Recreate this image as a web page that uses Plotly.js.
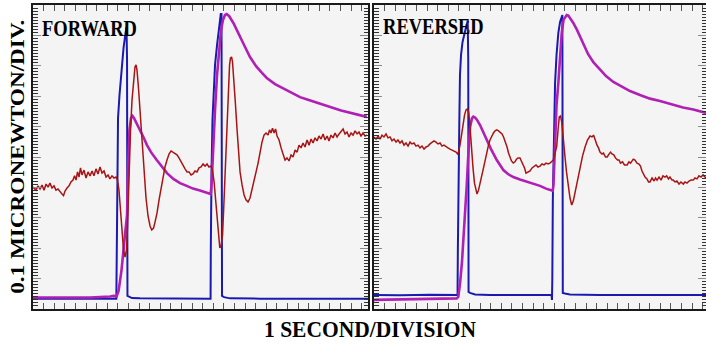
<!DOCTYPE html>
<html>
<head>
<meta charset="utf-8">
<script src="https://cdn.plot.ly/plotly-3.0.1.min.js"></script>
<style>html,body{margin:0;padding:0;background:#fff;}#chart{width:706px;height:345px;}</style>
</head>
<body>
<div id="chart"></div>
<script>
// Units: time in seconds, force in micronewtons (0.1 µN per division)
const panelTitles = ["FORWARD", "REVERSED"];
const xTitle = "1 SECOND/DIVISION";
const yTitle = "0.1 MICRONEWTON/DIV.";

// ---- FORWARD panel ----
const fwdBlueT = [0,0.255,0.538,0.786,0.789,0.792,0.796,0.802,0.816,0.835,0.854,0.873,0.882,0.887,0.889,0.891,0.906,0.934,1.009,1.292,1.575,1.675,1.677,1.679,1.684,1.693,1.703,1.717,1.736,1.755,1.771,1.778,1.781,1.783,1.802,1.858,2.142,2.519,2.896,3.160];
const fwdBlueF = [0.034,0.035,0.034,0.034,0.194,0.359,0.523,0.628,0.704,0.793,0.859,0.908,0.928,0.819,0.359,0.043,0.041,0.036,0.035,0.034,0.034,0.034,0.194,0.359,0.457,0.622,0.720,0.803,0.868,0.924,0.970,0.970,0.523,0.043,0.039,0.035,0.034,0.034,0.034,0.034];

const fwdMagT = [0,0.160,0.349,0.538,0.679,0.726,0.764,0.788,0.807,0.835,0.863,0.887,0.899,0.910,0.925,0.939,0.953,0.981,1.009,1.041,1.075,1.113,1.167,1.217,1.264,1.324,1.387,1.450,1.509,1.575,1.632,1.676,1.684,1.698,1.717,1.736,1.755,1.774,1.792,1.811,1.827,1.849,1.890,1.920,1.953,2.000,2.047,2.104,2.151,2.205,2.283,2.361,2.443,2.519,2.594,2.676,2.755,2.833,2.906,2.991,3.066,3.148];
const fwdMagF = [0.038,0.037,0.038,0.038,0.039,0.041,0.043,0.041,0.059,0.128,0.227,0.309,0.490,0.589,0.628,0.635,0.628,0.609,0.589,0.566,0.539,0.516,0.490,0.467,0.447,0.428,0.414,0.405,0.396,0.390,0.383,0.378,0.408,0.523,0.655,0.770,0.859,0.918,0.951,0.967,0.970,0.964,0.941,0.918,0.895,0.862,0.829,0.799,0.780,0.760,0.740,0.725,0.711,0.697,0.688,0.678,0.668,0.661,0.653,0.645,0.638,0.632];

const fwdRedT = [0,0.028,0.047,0.066,0.085,0.104,0.123,0.142,0.160,0.179,0.198,0.217,0.236,0.255,0.274,0.288,0.302,0.321,0.340,0.358,0.377,0.392,0.406,0.420,0.434,0.448,0.462,0.481,0.500,0.519,0.538,0.557,0.575,0.594,0.613,0.632,0.651,0.670,0.689,0.708,0.726,0.745,0.764,0.783,0.797,0.811,0.825,0.840,0.854,0.868,0.882,0.892,0.906,0.920,0.934,0.948,0.962,0.972,0.981,0.995,1.009,1.028,1.047,1.066,1.085,1.104,1.120,1.137,1.151,1.170,1.189,1.208,1.226,1.245,1.264,1.283,1.302,1.321,1.340,1.358,1.377,1.396,1.415,1.434,1.453,1.472,1.491,1.509,1.528,1.547,1.566,1.585,1.604,1.623,1.642,1.660,1.679,1.693,1.708,1.722,1.736,1.750,1.762,1.774,1.788,1.802,1.816,1.830,1.844,1.854,1.863,1.873,1.882,1.896,1.910,1.925,1.939,1.953,1.972,1.991,2.009,2.028,2.047,2.066,2.085,2.104,2.123,2.142,2.160,2.179,2.198,2.217,2.231,2.245,2.259,2.274,2.288,2.302,2.321,2.340,2.358,2.377,2.396,2.415,2.434,2.453,2.472,2.491,2.509,2.528,2.547,2.566,2.585,2.604,2.623,2.642,2.660,2.679,2.698,2.717,2.736,2.755,2.774,2.792,2.811,2.830,2.849,2.868,2.887,2.906,2.925,2.943,2.962,2.981,3.000,3.019,3.038,3.057,3.075,3.094,3.113,3.132,3.151];
const fwdRedF = [0.401,0.391,0.405,0.395,0.408,0.391,0.411,0.401,0.414,0.398,0.405,0.391,0.395,0.385,0.378,0.373,0.388,0.398,0.405,0.418,0.424,0.438,0.424,0.451,0.434,0.464,0.441,0.457,0.431,0.451,0.438,0.454,0.438,0.461,0.444,0.467,0.447,0.454,0.434,0.441,0.428,0.438,0.431,0.434,0.424,0.391,0.326,0.253,0.194,0.171,0.194,0.276,0.441,0.589,0.688,0.753,0.796,0.803,0.786,0.727,0.655,0.539,0.441,0.365,0.306,0.273,0.260,0.266,0.286,0.316,0.359,0.398,0.438,0.467,0.490,0.510,0.520,0.516,0.513,0.507,0.497,0.484,0.470,0.461,0.451,0.451,0.441,0.444,0.454,0.451,0.464,0.467,0.477,0.470,0.477,0.467,0.470,0.457,0.418,0.359,0.299,0.234,0.201,0.207,0.243,0.359,0.490,0.622,0.737,0.803,0.826,0.829,0.812,0.753,0.671,0.589,0.507,0.451,0.408,0.375,0.359,0.352,0.365,0.391,0.424,0.451,0.480,0.516,0.549,0.572,0.579,0.572,0.589,0.579,0.595,0.579,0.592,0.569,0.556,0.530,0.510,0.490,0.497,0.487,0.507,0.500,0.523,0.516,0.539,0.530,0.546,0.533,0.556,0.539,0.559,0.546,0.563,0.553,0.569,0.559,0.576,0.556,0.569,0.553,0.572,0.563,0.579,0.566,0.576,0.586,0.592,0.576,0.582,0.566,0.579,0.572,0.586,0.576,0.582,0.569,0.579,0.569,0.572];

// ---- REVERSED panel ----
const revBlueT = [0,0.245,0.528,0.788,0.791,0.794,0.798,0.805,0.811,0.821,0.835,0.854,0.873,0.884,0.889,0.891,0.892,0.906,0.953,1.094,1.377,1.675,1.679,1.682,1.687,1.692,1.700,1.708,1.722,1.739,1.755,1.771,1.777,1.779,1.781,1.802,1.849,2.132,2.604,3.132];
const revBlueF = [0.046,0.045,0.047,0.046,0.194,0.359,0.457,0.622,0.770,0.836,0.878,0.911,0.934,0.947,0.819,0.359,0.056,0.053,0.048,0.046,0.045,0.046,0.030,0.095,0.359,0.467,0.655,0.743,0.836,0.908,0.944,0.967,0.967,0.523,0.053,0.051,0.048,0.046,0.045,0.046];

const revMagT = [0,0.151,0.340,0.528,0.670,0.780,0.795,0.811,0.830,0.844,0.858,0.875,0.887,0.906,0.925,0.937,0.953,0.972,1.000,1.028,1.063,1.104,1.158,1.220,1.264,1.314,1.377,1.441,1.500,1.566,1.623,1.686,1.693,1.708,1.722,1.739,1.755,1.771,1.788,1.818,1.833,1.858,1.880,1.915,1.943,1.975,2.019,2.069,2.132,2.189,2.258,2.321,2.415,2.509,2.604,2.698,2.824,2.915,3.012,3.132];
const revMagF = [0.030,0.031,0.031,0.033,0.034,0.035,0.040,0.082,0.155,0.227,0.309,0.408,0.490,0.599,0.628,0.633,0.630,0.622,0.605,0.582,0.556,0.526,0.490,0.457,0.444,0.434,0.426,0.419,0.411,0.405,0.396,0.389,0.408,0.579,0.671,0.743,0.836,0.908,0.951,0.967,0.965,0.954,0.941,0.918,0.896,0.868,0.839,0.812,0.786,0.766,0.747,0.734,0.717,0.704,0.692,0.684,0.671,0.663,0.656,0.645];

const revRedT = [0,0.019,0.038,0.057,0.075,0.094,0.113,0.132,0.151,0.170,0.189,0.208,0.226,0.245,0.264,0.283,0.302,0.321,0.340,0.358,0.377,0.396,0.415,0.434,0.453,0.472,0.491,0.509,0.528,0.547,0.566,0.585,0.604,0.623,0.642,0.660,0.679,0.698,0.717,0.736,0.755,0.774,0.788,0.797,0.811,0.827,0.840,0.854,0.868,0.880,0.892,0.901,0.910,0.922,0.934,0.948,0.962,0.972,0.986,1.000,1.016,1.033,1.047,1.063,1.080,1.094,1.110,1.127,1.142,1.158,1.175,1.189,1.208,1.222,1.236,1.255,1.269,1.283,1.297,1.314,1.330,1.344,1.358,1.377,1.392,1.406,1.420,1.434,1.453,1.472,1.491,1.509,1.528,1.547,1.566,1.585,1.604,1.623,1.642,1.660,1.679,1.692,1.708,1.724,1.736,1.748,1.759,1.771,1.783,1.792,1.802,1.816,1.833,1.849,1.865,1.880,1.896,1.920,1.943,1.967,1.991,2.014,2.038,2.057,2.071,2.085,2.104,2.118,2.132,2.151,2.165,2.184,2.200,2.212,2.231,2.245,2.262,2.278,2.297,2.311,2.325,2.344,2.363,2.388,2.405,2.420,2.439,2.446,2.462,2.481,2.500,2.514,2.528,2.542,2.557,2.575,2.590,2.604,2.623,2.642,2.656,2.670,2.689,2.708,2.726,2.745,2.761,2.778,2.792,2.811,2.823,2.840,2.858,2.877,2.896,2.918,2.934,2.953,2.972,2.991,3.012,3.028,3.047,3.066,3.085,3.104,3.132];
const revRedF = [0.566,0.559,0.569,0.559,0.572,0.566,0.576,0.563,0.566,0.553,0.559,0.549,0.556,0.546,0.553,0.539,0.546,0.536,0.549,0.543,0.546,0.536,0.539,0.530,0.536,0.526,0.533,0.536,0.543,0.549,0.553,0.549,0.543,0.546,0.536,0.539,0.533,0.530,0.526,0.523,0.520,0.516,0.510,0.516,0.539,0.569,0.605,0.638,0.655,0.658,0.648,0.622,0.572,0.523,0.464,0.414,0.385,0.378,0.391,0.418,0.438,0.464,0.490,0.516,0.539,0.556,0.569,0.579,0.586,0.589,0.586,0.582,0.576,0.566,0.553,0.533,0.513,0.497,0.487,0.480,0.484,0.493,0.497,0.497,0.487,0.477,0.464,0.447,0.451,0.454,0.464,0.470,0.474,0.467,0.470,0.477,0.474,0.480,0.477,0.480,0.487,0.490,0.513,0.536,0.589,0.632,0.635,0.615,0.572,0.546,0.500,0.451,0.401,0.365,0.342,0.355,0.382,0.424,0.467,0.503,0.533,0.556,0.569,0.566,0.572,0.556,0.539,0.530,0.516,0.510,0.513,0.500,0.500,0.507,0.516,0.510,0.507,0.497,0.490,0.490,0.480,0.484,0.474,0.474,0.484,0.480,0.487,0.493,0.490,0.480,0.477,0.470,0.454,0.444,0.434,0.428,0.418,0.418,0.431,0.421,0.431,0.424,0.434,0.424,0.438,0.434,0.438,0.428,0.434,0.424,0.424,0.418,0.421,0.411,0.418,0.411,0.418,0.414,0.421,0.424,0.424,0.431,0.428,0.438,0.434,0.441,0.431];

const BLUE = '#1a1ab0', MAG = '#b020b4', RED = '#a81414';
const FONT = 'Liberation Serif, Times New Roman, serif';

function tr(x, y, color, width, xa, ya) {
  return {x: x, y: y, type: 'scatter', mode: 'lines', xaxis: xa, yaxis: ya,
          line: {color: color, width: width}, hoverinfo: 'skip', showlegend: false};
}

const data = [
  tr(fwdBlueT, fwdBlueF, BLUE, 2, 'x', 'y'),
  tr(fwdMagT, fwdMagF, MAG, 2.6, 'x', 'y'),
  tr(fwdRedT, fwdRedF, RED, 1.5, 'x', 'y'),
  tr(revBlueT, revBlueF, BLUE, 2, 'x2', 'y2'),
  tr(revMagT, revMagF, MAG, 2.6, 'x2', 'y2'),
  tr(revRedT, revRedF, RED, 1.5, 'x2', 'y2')
];

function xax(domain, range) {
  return {domain: domain, range: range, showgrid: false, zeroline: false, showticklabels: false,
          ticks: 'inside', tick0: 0, dtick: 0.1, ticklen: 6, tickwidth: 1, tickcolor: '#555',
          showline: true, linecolor: '#1a1a1a', linewidth: 2, mirror: 'allticks', fixedrange: true};
}
function yax(anchor) {
  return {anchor: anchor, range: [0, 1], showgrid: false, zeroline: false, showticklabels: false,
          ticks: 'inside', tick0: 0, dtick: 0.1, ticklen: 8, tickwidth: 1, tickcolor: '#8a8a8a',
          minor: {tick0: 0, dtick: 0.01, ticks: 'inside', ticklen: 4.5, tickwidth: 1, tickcolor: '#333', showgrid: false},
          showline: true, linecolor: '#1a1a1a', linewidth: 2, mirror: 'allticks', fixedrange: true};
}

const layout = {
  width: 706, height: 345,
  margin: {l: 33, r: 0, t: 5, b: 36, pad: 0},
  paper_bgcolor: '#ffffff', plot_bgcolor: '#f4f4f4',
  showlegend: false,
  xaxis: xax([0, 0.4978], [0, 3.16]),
  yaxis: yax('x'),
  xaxis2: xax([0.5067, 1], [0, 3.132]),
  yaxis2: yax('x2'),
  annotations: [
    {text: '<b>' + panelTitles[0] + '</b>', xref: 'paper', yref: 'paper', x: 0.0111, y: 0.922,
     xanchor: 'left', yanchor: 'middle', showarrow: false, font: {family: FONT, size: 18.5, color: '#000'}},
    {text: '<b>' + panelTitles[1] + '</b>', xref: 'paper', yref: 'paper', x: 0.5178, y: 0.928,
     xanchor: 'left', yanchor: 'middle', showarrow: false, font: {family: FONT, size: 18.5, color: '#000'}},
    {text: '<b>' + xTitle + '</b>', xref: 'paper', yref: 'paper', x: 0.5022, y: -0.069,
     xanchor: 'center', yanchor: 'middle', showarrow: false, font: {family: FONT, size: 21.5, color: '#000'}},
    {text: '<b>' + yTitle + '</b>', xref: 'paper', yref: 'paper', x: -0.023, y: 0.5016, textangle: -90,
     xanchor: 'center', yanchor: 'middle', showarrow: false, font: {family: FONT, size: 19.5, color: '#000'}}
  ]
};

Plotly.newPlot('chart', data, layout, {staticPlot: true, displayModeBar: false}).then(function (gd) {
  // the reference lettering is taller/narrower than the font; stretch the real text elements
  gd.querySelectorAll('.annotation-text').forEach(function (t) {
    const s = t.textContent;
    let tf = null;
    if (s === panelTitles[0] || s === panelTitles[1]) tf = 'scaleY(1.2)';
    else if (s === yTitle) tf = 'scaleX(1.19)';
    else if (s === xTitle) tf = 'scaleY(1.06)';
    if (tf) {
      t.style.transformBox = 'fill-box';
      t.style.transformOrigin = 'center';
      t.style.transform = tf;
    }
  });
});
</script>
</body>
</html>
